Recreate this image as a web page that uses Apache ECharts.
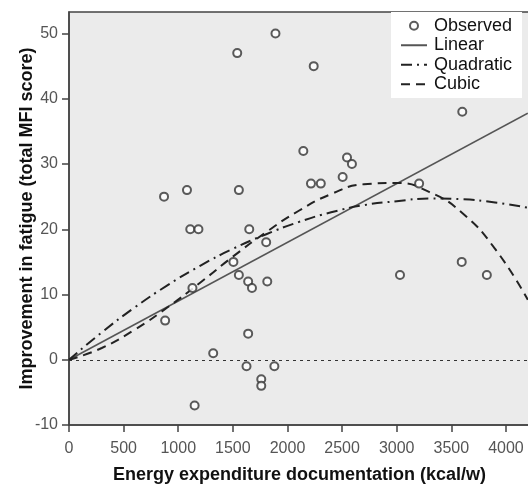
<!DOCTYPE html>
<html>
<head>
<meta charset="utf-8">
<script src="https://cdn.jsdelivr.net/npm/echarts@6/dist/echarts.min.js"></script>
<style>
  html, body { margin: 0; padding: 0; background: #fff; }
  #chart { width: 528px; height: 484px; }
</style>
</head>
<body>
<div id="chart"></div>
<script>
// observed points: [energy expenditure, improvement in fatigue]
const observed = [
  [1890, 50], [1540, 47], [2240, 45], [3600, 38], [2145, 32], [2545, 31],
  [2590, 30], [2505, 28], [2215, 27], [2305, 27], [3205, 27], [1080, 26],
  [1555, 26], [870, 25], [1110, 20], [1185, 20], [1650, 20], [1805, 18],
  [1505, 15], [3595, 15], [1555, 13], [3030, 13], [3825, 13], [1640, 12],
  [1815, 12], [1675, 11], [1130, 11], [880, 6], [1640, 4], [1320, 1],
  [1625, -1], [1880, -1], [1760, -3], [1760, -4], [1150, -7]
]

// fitted curves
const fitX = [0, 300, 600, 900, 1200, 1500, 1800, 2100, 2400, 2700, 3000, 3300, 3600, 3900, 4200]
const quadraticY = [0, 4.2, 8.0, 11.4, 14.4, 17.0, 19.2, 21.1, 22.6, 23.7, 24.3, 24.7, 24.6, 24.1, 23.3]
const cubicY = [0, 1.8, 4.6, 8.0, 11.8, 15.8, 19.5, 22.8, 25.4, 26.9, 27.1, 25.7, 22.5, 17.0, 9.2]
const linearX = [0, 4200]
const linearY = [0, 37.8]

const legendNames = ['Observed', 'Linear', 'Quadratic', 'Cubic']

const pair = (xs, ys) => xs.map((x, i) => [x, ys[i]])

const chart = echarts.init(document.getElementById('chart'))

const axisColor = '#444'
const font = 'Liberation Sans, Arial, sans-serif'
const labelStyle = { color: '#555', fontSize: 16, fontFamily: font }

chart.setOption({
  animation: false,
  grid: {
    left: 69,
    right: -2,
    top: 12,
    bottom: 59,
    outerBoundsMode: 'none',
    show: true,
    backgroundColor: '#ebebeb',
    borderColor: axisColor,
    borderWidth: 1.5,
  },
  legend: {
    // line icons without the marker in the middle
    data: legendNames.map((n, i) => i === 0 ? n : { name: n, itemStyle: { opacity: 0 } }),
    orient: 'vertical',
    left: 391,
    top: 12,
    padding: [4, 10, 4, 9],
    backgroundColor: '#fff',
    itemWidth: 26,
    itemHeight: 8,
    itemGap: 0,
    textStyle: {
      color: '#111',
      fontSize: 18,
      lineHeight: 19.5,
      fontFamily: font,
      padding: [0, 0, 0, 2],
    },
  },
  xAxis: {
    type: 'value',
    min: 0,
    max: 4220,
    interval: 500,
    name: 'Energy expenditure documentation (kcal/w)',
    nameLocation: 'middle',
    nameGap: 41,
    nameMoveOverlap: false,
    nameTextStyle: { color: '#111', fontSize: 18, fontWeight: 'bold', fontFamily: font },
    axisLine: { show: true, onZero: false, lineStyle: { color: axisColor, width: 1.5 } },
    axisTick: { show: true, length: 7, lineStyle: { color: axisColor, width: 1.5 } },
    axisLabel: { ...labelStyle, margin: 16, showMaxLabel: false, formatter: v => String(v) },
    splitLine: { show: false },
  },
  yAxis: {
    type: 'value',
    min: -10,
    max: 53.3,
    interval: 10,
    name: 'Improvement in fatigue (total MFI score)',
    nameLocation: 'middle',
    nameGap: 33,
    nameMoveOverlap: false,
    nameTextStyle: { color: '#111', fontSize: 18, fontWeight: 'bold', fontFamily: font },
    axisLine: { show: true, onZero: false, lineStyle: { color: axisColor, width: 1.5 } },
    axisTick: { show: true, length: 7, lineStyle: { color: axisColor, width: 1.5 } },
    axisLabel: { ...labelStyle, margin: 11, showMaxLabel: false, formatter: v => String(v) },
    splitLine: { show: false },
  },
  series: [
    {
      name: 'Observed',
      type: 'scatter',
      data: observed,
      symbol: 'emptyCircle',
      symbolSize: 8,
      itemStyle: { color: '#333', borderColor: '#333', borderWidth: 1.5 },
      z: 5,
      markLine: {
        silent: true,
        symbol: 'none',
        label: { show: false },
        lineStyle: { color: '#333', width: 1, type: [3, 4] },
        data: [{ yAxis: 0 }],
      },
    },
    {
      name: 'Linear',
      type: 'line',
      data: pair(linearX, linearY),
      showSymbol: false,
      symbol: 'none',
      lineStyle: { color: '#555', width: 1.6, type: 'solid' },
      itemStyle: { color: '#555' },
    },
    {
      name: 'Quadratic',
      type: 'line',
      data: pair(fitX, quadraticY),
      smooth: true,
      showSymbol: false,
      symbol: 'none',
      lineStyle: { color: '#222', width: 2, type: [11, 5, 2, 5] },
      itemStyle: { color: '#222' },
    },
    {
      name: 'Cubic',
      type: 'line',
      data: pair(fitX, cubicY),
      smooth: true,
      showSymbol: false,
      symbol: 'none',
      lineStyle: { color: '#222', width: 2, type: [9, 6] },
      itemStyle: { color: '#222' },
    },
  ],
})
</script>
</body>
</html>
